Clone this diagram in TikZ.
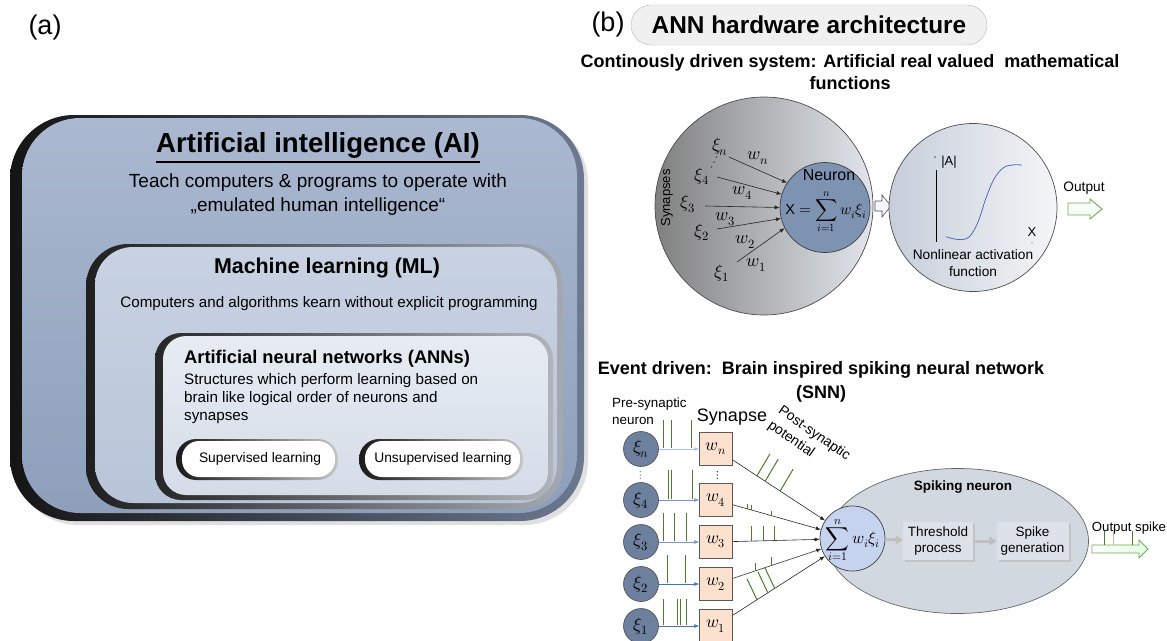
\documentclass[tikz,border=0pt]{standalone}
\usepackage{fontspec}
\usepackage{unicode-math}
\setmainfont{Liberation Sans}
\setmathfont{Latin Modern Math}
\usetikzlibrary{arrows.meta,shapes.geometric,shadows,calc}
\newcommand{\fsz}[2]{\fontsize{#1}{#2}\selectfont}
\definecolor{aiTop}{HTML}{AAB9D0}
\definecolor{aiBot}{HTML}{8D9FBB}
\definecolor{aiR}{HTML}{6B7991}
\definecolor{mlTop}{HTML}{C8D2E2}
\definecolor{mlBot}{HTML}{B8C4D8}
\definecolor{mlR}{HTML}{A4A9B1}
\definecolor{annTop}{HTML}{E7ECF3}
\definecolor{annBot}{HTML}{D5DCE8}
\definecolor{annR}{HTML}{B0B4BA}
\definecolor{bigL}{HTML}{808080}
\definecolor{bigR}{HTML}{E2E6EC}
\definecolor{actL}{HTML}{C6CEDA}
\definecolor{actR}{HTML}{F4F5F7}
\definecolor{steel}{HTML}{7E93B1}
\definecolor{preN}{HTML}{6D809E}
\definecolor{peach}{HTML}{FBE1CE}
\definecolor{spkc}{HTML}{4F7A30}
\definecolor{sumc}{HTML}{C6D3EF}
\definecolor{ellf}{HTML}{D2D8E0}
\definecolor{procf}{HTML}{DDE2E9}
\definecolor{arrb}{HTML}{4472C4}
\definecolor{outg}{HTML}{76A458}
\definecolor{sigc}{HTML}{4A6FB5}
\begin{document}
\begin{tikzpicture}[x=1pt,y=-1pt,
  lbl/.style={inner sep=0pt},
  mlbl/.style={inner sep=0pt,font=\fsz{18}{20}},
  pillbox/.style={inner sep=0pt,font=\fsz{13.8}{16}},
  preneuron/.style={circle,minimum size=35pt,inner sep=0pt,draw=black!70,fill=preN,line width=0.6pt,font=\fsz{18}{20}},
  wbox/.style={rectangle,minimum size=33pt,inner sep=0pt,draw=black!65,fill=peach,line width=0.5pt,font=\fsz{17.5}{20}},
  procbox/.style={rectangle,minimum height=38pt,inner sep=0pt,fill=procf,align=center,font=\fsz{13.5}{16.5},drop shadow={shadow xshift=2pt,shadow yshift=-2pt,fill=gray!55,opacity=0.7}},
  karrow/.style={-{Latex[length=5pt,width=4pt]},line width=0.6pt,black!85},
  barrow/.style={-{Latex[length=5pt,width=4pt]},line width=0.7pt,arrb},
  garrow/.style={-{Triangle[length=7pt,width=9pt]},line width=3pt,gray!50},
  spk/.style={spkc,line width=1pt},
  sig/.style={sigc,line width=0.8pt}]
\useasboundingbox (0,0) rectangle (1167,640);

% ================= panel (a) =================
\node[lbl,font=\fsz{27}{30}] (alab) at (45,28) {(a)};
% AI box
\fill[black!30,opacity=0.4,rounded corners=64pt] (14,119) rectangle (588,525);
\shade[rounded corners=64pt,left color=black!92,right color=aiR] (10,115) rectangle (584,521);
\shade[rounded corners=58pt,top color=aiTop,bottom color=aiBot] (22,118) rectangle (577,513);
\node[lbl,font=\fsz{27.6}{32}\bfseries] (aititle) at (318,148) {\underline{Artificial intelligence (AI)}};
\node[lbl,align=center,font=\fsz{19}{24}] (aitext) at (318,195) {Teach computers \& programs to operate with\\„emulated human intelligence“};
% ML box
\shade[rounded corners=42pt,left color=black!88,right color=mlR] (86,244) rectangle (563,509);
\shade[rounded corners=38pt,top color=mlTop,bottom color=mlBot] (95,247) rectangle (557,503);
\node[lbl,font=\fsz{21.4}{25}\bfseries] (mltitle) at (327,268) {Machine learning (ML)};
\node[lbl,font=\fsz{15.2}{18}] (mltext) at (329,304) {Computers and algorithms kearn without explicit programming};
% ANN box
\shade[rounded corners=26pt,left color=black!85,right color=annR] (155,333) rectangle (553,500);
\shade[rounded corners=23pt,top color=annTop,bottom color=annBot] (163,336) rectangle (548,495);
\node[lbl,anchor=west,font=\fsz{18.3}{21}\bfseries] (anntitle) at (184,359) {Artificial neural networks (ANNs)};
\node[lbl,anchor=north west,align=left,font=\fsz{15.2}{18}] (anntext) at (184,373) {Structures which perform learning based on\\brain like logical order of neurons and\\synapses};
% pills
\shade[rounded corners=20pt,left color=black!90,right color=gray!45] (176,439) rectangle (338,480);
\fill[white,rounded corners=17pt] (182,441) rectangle (335,477);
\node[pillbox] (sup) at (260,459) {Supervised learning};
\shade[rounded corners=20pt,left color=black!90,right color=gray!45] (359,439) rectangle (523,480);
\fill[white,rounded corners=17pt] (365,441) rectangle (520,477);
\node[pillbox] (unsup) at (443,459) {Unsupervised learning};

% ================= panel (b) =================
\node[lbl,font=\fsz{27}{30}] (blab) at (608,25) {(b)};
\node[draw=gray!55,fill=gray!12,rounded corners=20pt,minimum width=356pt,minimum height=40pt,inner sep=0pt,font=\fsz{24.4}{28}\bfseries] (hw) at (809,25) {ANN hardware architecture};
\node[lbl,align=center,font=\fsz{18}{21.5}\bfseries] (cont) at (850,72) {Continously driven system: Artificial real valued\ \ mathematical\\functions};

% big synapse circle
\node[circle,minimum size=218pt,inner sep=0pt,draw=black!70,line width=0.7pt,left color=bigL,right color=bigR] (syn) at (764,206) {};
\node[lbl,rotate=90,font=\fsz{13}{15}] (synlbl) at (667,198) {Synapses};
\node[circle,minimum size=90pt,inner sep=0pt,draw=black!75,line width=0.7pt,fill=steel] (neuron) at (825,207.5) {};
\node[lbl,font=\fsz{16}{18}] (neurlab) at (829,175) {Neuron};
\node[lbl,font=\fsz{14.5}{17}] (neurx) at (826,212) {X {\fsz{15.5}{18}$=\displaystyle\sum_{i=1}^{n} w_i\xi_i$}};
% inputs
\node[mlbl] (xn) at (720,147) {$\xi_n$};
\fill[black!70] (716.5,157) circle (0.8) (714,162) circle (0.8) (711.5,167) circle (0.8);
\node[mlbl] (x4) at (702,176) {$\xi_4$};
\node[mlbl] (x3) at (688,204) {$\xi_3$};
\node[mlbl] (x2) at (702,232) {$\xi_2$};
\node[mlbl] (x1) at (722,273) {$\xi_1$};
\coordinate (sn) at (729,157);
\coordinate (s4) at (717,177);
\coordinate (s3) at (705,206);
\coordinate (s2) at (717,229);
\coordinate (s1) at (737,262);
\draw[karrow] (sn) -- (neuron.147);
\draw[karrow] (s4) -- (neuron.163);
\draw[karrow] (s3) -- (neuron.180);
\draw[karrow] (s2) -- (neuron.194);
\draw[karrow] (s1) -- (neuron.207);
\node[mlbl] (wwn) at (758,158) {$w_n$};
\node[mlbl] (ww4) at (742,193) {$w_4$};
\node[mlbl] (ww3) at (725,219) {$w_3$};
\node[mlbl] (ww2) at (745,242) {$w_2$};
\node[mlbl] (ww1) at (756,265) {$w_1$};
% hollow arrow between circles
\draw[draw=black!70,fill=blue!4,line width=0.6pt] (875,201) -- ++(7,0) -- ++(0,-6) -- ++(9,11) -- ++(-9,11) -- ++(0,-6) -- ++(-7,0) -- cycle;
% activation circle
\node[circle,minimum size=168pt,inner sep=0pt,draw=black!70,line width=0.7pt,left color=actL,right color=actR] (act) at (973,207.5) {};
\draw[black,line width=0.8pt] (936,170) -- (936,242);
\fill[black!70] (935,157) circle (0.8);
\node[lbl,font=\fsz{13}{15}] (alab2) at (949,162) {|A|};
\draw[sig] plot[smooth,tension=0.6] coordinates {(946,236.7) (958,239.5) (969,237) (978,222) (986,198) (994,179) (1003,168) (1012,165) (1022,165)};
\node[lbl,font=\fsz{13}{15}] (xl) at (1032,232) {X};
\fill[black!70] (1032,243) circle (0.7);
\node[lbl,align=center,font=\fsz{13.7}{16.7}] (nlact) at (973,263) {Nonlinear activation\\function};
\node[lbl,font=\fsz{13.7}{16}] (outl) at (1084,188) {Output};
\draw[draw=outg,fill=green!4,line width=0.9pt] (1068,203) -- (1090,203) -- (1090,199) -- (1102,209) -- (1090,219) -- (1090,215) -- (1068,215) -- cycle;

% ================= SNN =================
\node[lbl,align=center,font=\fsz{18}{23.5}\bfseries] (evt) at (821,382) {Event driven:\ \ Brain inspired spiking neural network\\(SNN)};
\node[lbl,anchor=west,align=left,font=\fsz{13.4}{16.5}] (pre) at (612,411) {Pre-synaptic\\neuron};
\node[lbl,font=\fsz{18}{20}] (synapse) at (732,417) {Synapse};
\node[lbl,rotate=-35,align=left,font=\fsz{14}{18}] (post) at (809,441) {Post-synaptic\\potential};

% spiking neuron ellipse
\node[ellipse,minimum width=262pt,minimum height=145pt,inner sep=0pt,draw=black!60,line width=0.7pt,fill=ellf] (sneur) at (957.5,541) {};
\node[lbl,font=\fsz{13.5}{16}\bfseries] (sneurl) at (963,487) {Spiking neuron};

% pre-synaptic neurons and synapses
\node[preneuron] (pn) at (641,449) {$\xi_n$};
\node[preneuron] (p4) at (641,500) {$\xi_4$};
\node[preneuron] (p3) at (641,542) {$\xi_3$};
\node[preneuron] (p2) at (641,584) {$\xi_2$};
\node[preneuron] (p1) at (641,626) {$\xi_1$};
\node[lbl,text=black!60,font=\fsz{12}{13}] (pdots) at (641,475) {$\vdots$};
\node[wbox] (wn) at (716,449) {$w_n$};
\node[wbox] (w4) at (716,500) {$w_4$};
\node[wbox] (w3) at (716,542) {$w_3$};
\node[wbox] (w2) at (716,584) {$w_2$};
\node[wbox] (w1) at (716,626) {$w_1$};
\node[lbl,font=\fsz{12}{13}] (wdots) at (718,475) {$\vdots$};
\draw[barrow,arrb!45] (pn) -- (wn);
\draw[barrow,arrb!75] (p4) -- (w4);
\draw[barrow,arrb!75] (p3) -- (w3);
\draw[barrow] (p2) -- (w2);
\draw[barrow] (p1) -- (w1);
% input spike trains
\foreach \x in {663,671,691} \draw[spk] (\x,448) -- ++(0,-28);
\foreach \x in {668,671,692} \draw[spk] (\x,499) -- ++(0,-29);
\foreach \x in {663,674,686} \draw[spk] (\x,541) -- ++(0,-28);
\foreach \x in {667,685} \draw[spk] (\x,583) -- ++(0,-28);
\foreach \x in {663,677,680,686} \draw[spk] (\x,625) -- ++(0,-26);

% summation circle
\node[circle,minimum size=65pt,inner sep=0pt,draw=black!75,line width=0.7pt,fill=sumc] (sum) at (852.5,538.5) {};
\node[lbl,font=\fsz{16.5}{19}] (sumt) at (853,540) {$\displaystyle\sum_{i=1}^{n} w_i\xi_i$};
\draw[karrow] (wn) -- (sum);
\draw[karrow] (w4) -- (sum);
\draw[karrow] (w3) -- (sum);
\draw[karrow] (w2) -- (sum);
\draw[karrow] (w1) -- (sum);
% post-synaptic potentials
\foreach \t in {0.30,0.36,0.47} \draw[spk] ($(wn)!\t!(sum)$) -- ++(13,-22);
\foreach \t in {0.234,0.26,0.41} \draw[spk] ($(w4)!\t!(sum)$) -- ++(0,-5);
\foreach \t in {0.26,0.35,0.43} \draw[spk] ($(w3)!\t!(sum)$) -- ++(0,-15);
\foreach \t in {0.286,0.41} \draw[spk] ($(w2)!\t!(sum)$) -- ++(0,-8);
\foreach \t in {0.30,0.38,0.43} \draw[spk] ($(w1)!\t!(sum)$) -- ++(-10,-21);

% processing blocks
\node[procbox,minimum width=70pt] (thr) at (938,541) {Threshold\\process};
\node[procbox,minimum width=72pt] (sgen) at (1032.5,541) {Spike\\generation};
\draw[garrow] (sum) -- (thr);
\draw[garrow] (thr) -- (sgen);

% output spike
\node[lbl,font=\fsz{13.2}{15}] (outsp) at (1129,528) {Output spike};
\shade[draw=outg,left color=white,right color=green!12,line width=0.9pt] (1092,545) -- (1139,545) -- (1139,540) -- (1148,549) -- (1139,558) -- (1139,553) -- (1092,553) -- cycle;
\draw[spk] (1104,545) -- (1104,531);
\draw[spk,spkc!45] (1113,545) -- (1113,531);
\draw[spk] (1132,545) -- (1132,531);
\end{tikzpicture}
\end{document}
